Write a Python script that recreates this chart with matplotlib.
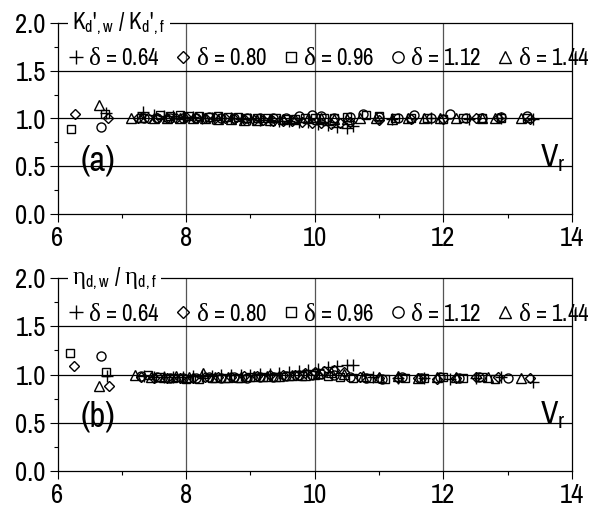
import matplotlib
matplotlib.use("Agg")
import matplotlib.pyplot as plt
from matplotlib import font_manager as fm
from matplotlib.ticker import MultipleLocator


def pick(cands):
    for c in cands:
        try:
            fm.findfont(fm.FontProperties(family=c), fallback_to_default=False)
            return c
        except Exception:
            pass
    return 'DejaVu Sans'


SANS = pick(['Liberation Sans Narrow', 'Arial Narrow', 'Pragati Narrow',
             'Roboto Condensed', 'Archivo Narrow', 'PT Sans Narrow',
             'Liberation Sans'])
SERIF = pick(['Liberation Serif', 'DejaVu Serif'])

plt.rcParams['font.family'] = [SANS, 'Liberation Sans', 'DejaVu Sans']
plt.rcParams['mathtext.fontset'] = 'custom'
plt.rcParams['mathtext.rm'] = SANS
plt.rcParams['mathtext.it'] = SERIF
plt.rcParams['mathtext.bf'] = SANS + ':bold'

# ---------------- data ----------------
deltas = ["0.64", "0.80", "0.96", "1.12", "1.44"]
markers = ["+", "D", "s", "o", "^"]

# panel (a): K'd,w / K'd,f
a_x_064 = [6.75, 7.33, 7.5, 7.65, 7.8, 7.95, 8.1, 8.25, 8.4, 8.55, 8.7, 8.85, 9.0, 9.15, 9.3, 9.45, 9.6, 9.75, 9.9, 10.05, 10.2, 10.35, 10.5, 10.6, 11.2, 11.8, 12.4, 12.9, 13.4]
a_y_064 = [1.06, 1.07, 1.04, 1.03, 1.03, 1.02, 1.02, 1.01, 1.01, 1.0, 1.0, 0.99, 0.99, 0.98, 0.98, 0.97, 0.97, 0.96, 0.96, 0.94, 0.93, 0.91, 0.90, 0.92, 0.99, 1.0, 0.99, 1.0, 0.99]
a_x_080 = [6.27, 6.79, 7.25, 7.4, 7.55, 7.7, 7.85, 8.0, 8.15, 8.3, 8.45, 8.6, 8.75, 8.9, 9.05, 9.2, 9.35, 9.5, 9.65, 9.8, 9.95, 10.1, 10.25, 10.4, 10.55, 11.0, 11.5, 12.0, 12.5, 12.85, 13.35]
a_y_080 = [1.05, 1.01, 1.0, 1.0, 1.01, 1.0, 1.01, 1.02, 1.01, 1.0, 1.0, 1.0, 0.99, 0.99, 0.98, 0.98, 0.97, 0.97, 0.97, 0.96, 0.95, 0.95, 0.94, 0.95, 0.96, 0.98, 0.99, 0.99, 1.0, 1.0, 0.99]
a_x_096 = [6.21, 6.74, 7.3, 7.6, 7.75, 7.9, 8.05, 8.2, 8.35, 8.5, 8.65, 8.8, 8.95, 9.1, 9.25, 9.4, 9.55, 9.7, 9.85, 10.0, 10.15, 10.3, 10.5, 10.8, 11.0, 11.25, 11.5, 11.75, 12.0, 12.3, 12.6, 12.9, 13.3]
a_y_096 = [0.89, 1.05, 1.0, 1.04, 1.03, 1.04, 1.03, 1.03, 1.02, 1.03, 1.02, 1.02, 1.01, 1.01, 1.0, 1.0, 0.99, 0.99, 1.0, 1.0, 1.0, 1.01, 1.02, 1.04, 1.03, 1.0, 1.01, 1.0, 0.99, 1.0, 1.01, 1.0, 1.0]
a_x_112 = [6.67, 7.35, 7.55, 7.75, 7.95, 8.15, 8.35, 8.55, 8.75, 8.95, 9.15, 9.35, 9.55, 9.75, 9.95, 10.1, 10.3, 10.55, 10.75, 11.0, 11.3, 11.55, 11.8, 12.1, 12.35, 12.6, 12.9, 13.3]
a_y_112 = [0.91, 1.0, 1.0, 1.01, 1.0, 1.01, 1.02, 1.01, 1.01, 1.0, 1.0, 1.01, 1.01, 1.03, 1.04, 1.03, 1.01, 1.02, 1.05, 1.02, 1.0, 1.04, 1.01, 1.05, 1.0, 1.01, 1.02, 1.03]
a_x_144 = [6.65, 7.15, 7.3, 7.5, 7.7, 7.9, 8.1, 8.3, 8.5, 8.7, 8.9, 9.1, 9.3, 9.5, 9.7, 9.9, 10.1, 10.3, 10.5, 10.7, 10.95, 11.2, 11.45, 11.7, 11.95, 12.2, 12.6, 12.8, 13.2]
a_y_144 = [1.14, 1.0, 1.02, 1.0, 1.0, 1.01, 1.0, 1.0, 0.99, 0.99, 0.98, 0.98, 0.98, 0.99, 0.99, 1.0, 1.0, 0.99, 0.99, 1.0, 1.0, 0.99, 1.0, 1.0, 1.0, 1.0, 1.0, 1.01, 1.01]

# panel (b): eta d,w / eta d,f
b_x_064 = [6.77, 7.35, 7.5, 7.65, 7.8, 7.95, 8.1, 8.25, 8.4, 8.55, 8.7, 8.85, 9.0, 9.15, 9.3, 9.45, 9.6, 9.75, 9.9, 10.05, 10.2, 10.35, 10.5, 10.6, 10.9, 11.3, 11.7, 12.1, 12.5, 12.9, 13.4]
b_y_064 = [0.98, 0.98, 0.97, 0.97, 0.97, 0.97, 0.98, 0.98, 0.98, 0.99, 0.99, 1.0, 1.0, 1.01, 1.01, 1.02, 1.03, 1.04, 1.05, 1.06, 1.08, 1.09, 1.1, 1.1, 0.97, 0.96, 0.96, 0.95, 0.96, 0.97, 0.92]
b_x_080 = [6.26, 6.8, 7.3, 7.5, 7.7, 7.9, 8.1, 8.3, 8.5, 8.7, 8.9, 9.1, 9.3, 9.5, 9.7, 9.85, 10.0, 10.15, 10.3, 10.45, 10.7, 11.0, 11.3, 11.6, 11.9, 12.2, 12.5, 12.85, 13.35]
b_y_080 = [1.09, 0.88, 0.97, 0.96, 0.96, 0.96, 0.96, 0.97, 0.97, 0.97, 0.98, 0.98, 0.99, 0.99, 1.0, 1.02, 1.03, 1.04, 1.05, 1.03, 0.97, 0.96, 0.96, 0.96, 0.95, 0.96, 0.97, 0.97, 0.96]
b_x_096 = [6.19, 6.75, 7.4, 7.6, 7.8, 8.0, 8.2, 8.4, 8.6, 8.8, 9.0, 9.2, 9.4, 9.6, 9.8, 10.0, 10.2, 10.4, 10.6, 10.85, 11.1, 11.4, 11.7, 12.0, 12.3, 12.6, 12.8]
b_y_096 = [1.22, 1.03, 0.99, 0.97, 0.96, 0.95, 0.95, 0.96, 0.96, 0.96, 0.97, 0.97, 0.97, 0.98, 0.98, 0.99, 0.98, 0.97, 0.96, 0.96, 0.95, 0.96, 0.96, 0.97, 0.96, 0.97, 0.95]
b_x_112 = [6.67, 7.3, 7.55, 7.75, 7.95, 8.15, 8.35, 8.55, 8.75, 8.95, 9.15, 9.35, 9.55, 9.75, 9.95, 10.1, 10.3, 10.55, 10.8, 11.05, 11.35, 11.65, 11.95, 12.25, 12.55, 13.0]
b_y_112 = [1.19, 0.98, 0.97, 0.96, 0.96, 0.96, 0.97, 0.96, 0.97, 0.96, 0.97, 0.97, 0.98, 0.99, 1.0, 1.01, 0.99, 0.97, 0.96, 0.95, 0.97, 0.96, 0.97, 0.96, 0.97, 0.96]
b_x_144 = [6.64, 7.2, 7.45, 7.65, 7.85, 8.05, 8.27, 8.45, 8.65, 8.85, 9.05, 9.25, 9.45, 9.65, 9.85, 10.05, 10.25, 10.45, 10.75, 11.0, 11.3, 11.6, 11.9, 12.2, 12.7, 13.2]
b_y_144 = [0.88, 0.99, 0.97, 0.97, 0.98, 0.97, 1.02, 0.97, 0.97, 0.97, 0.98, 0.98, 0.98, 0.99, 1.0, 1.02, 1.03, 1.01, 0.98, 0.97, 0.98, 0.96, 0.97, 0.97, 0.97, 0.96]

a_series = [(a_x_064, a_y_064), (a_x_080, a_y_080), (a_x_096, a_y_096), (a_x_112, a_y_112), (a_x_144, a_y_144)]
b_series = [(b_x_064, b_y_064), (b_x_080, b_y_080), (b_x_096, b_y_096), (b_x_112, b_y_112), (b_x_144, b_y_144)]

x_ticks = [6, 8, 10, 12, 14]
y_ticks = [0.0, 0.5, 1.0, 1.5, 2.0]

msizes = {"+": 8, "D": 5, "s": 6, "o": 6.5, "^": 6.5}

fig = plt.figure(figsize=(5.9, 5.11), dpi=100)
W, H = 590, 511
ax_a = fig.add_axes([57.5 / W, 1 - 214 / H, 514.5 / W, 191 / H])
ax_b = fig.add_axes([57.5 / W, 1 - 471 / H, 514.5 / W, 193 / H])


def style(ax, series, ylab, panel):
    for (xs, ys), m, d in zip(series, markers, deltas):
        ax.plot(xs, ys, linestyle='none', marker=m, markersize=msizes[m],
                markerfacecolor='none', markeredgecolor='black',
                markeredgewidth=1.0, color='black', zorder=4,
                label=r"$\delta$ = " + d)
    ax.set_xlim(6, 14)
    ax.set_ylim(0, 2)
    ax.set_xticks(x_ticks)
    ax.set_yticks(y_ticks)
    ax.set_xticklabels([str(t) for t in x_ticks])
    ax.set_yticklabels(["%.1f" % t for t in y_ticks])
    ax.xaxis.set_minor_locator(MultipleLocator(1))
    ax.yaxis.set_minor_locator(MultipleLocator(0.25))
    ax.tick_params(axis='both', which='major', direction='out', length=5.5,
                   width=0.8, labelsize=21, pad=3)
    ax.tick_params(axis='both', which='minor', direction='out', length=3,
                   width=0.8)
    ax.tick_params(top=False, right=False, which='both')
    for s in ax.spines.values():
        s.set_linewidth(0.9)
        s.set_color('black')
    for xv in [8, 10, 12]:
        ax.axvline(xv, color='#555555', lw=0.9, zorder=1)
    for yv in [0.5, 1.0, 1.5]:
        ax.axhline(yv, color='black', lw=0.9, zorder=1)
    ax.text(0.028, 0.995, ylab, transform=ax.transAxes, fontsize=18,
            ha='left', va='center', zorder=10, clip_on=False,
            bbox=dict(facecolor='white', edgecolor='none', pad=3))
    ax.text(0.045, 0.28, panel, transform=ax.transAxes, fontsize=27,
            ha='left', va='center')
    ax.text(0.988, 0.29, r"V$_\mathrm{r}$", transform=ax.transAxes, fontsize=25,
            ha='right', va='center')
    leg = ax.legend(loc='center left', bbox_to_anchor=(0.018, 0.815), ncol=5,
                    frameon=False, fontsize=18, handlelength=0.7,
                    handletextpad=0.15, columnspacing=0.6, borderpad=0,
                    borderaxespad=0, markerscale=1.25)
    leg.set_zorder(6)


style(ax_a, a_series,
      r"K$_\mathrm{d}$'$_\mathrm{,w}$ / K$_\mathrm{d}$'$_\mathrm{,f}$", "(a)")
style(ax_b, b_series,
      r"$\eta_\mathrm{d,w}$ / $\eta_\mathrm{d,f}$", "(b)")

fig.savefig("out.png", dpi=100)
